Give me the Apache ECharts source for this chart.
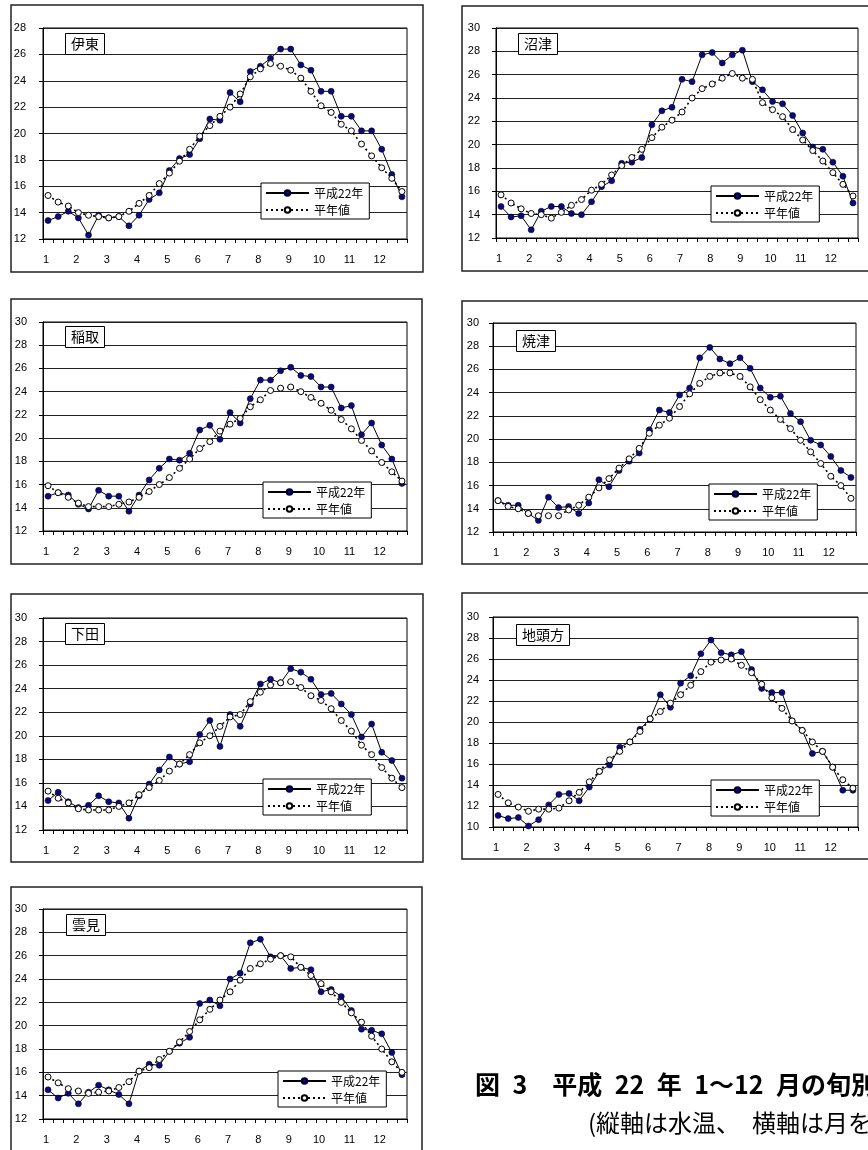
<!DOCTYPE html>
<html>
<head>
<meta charset="utf-8">
<script src="https://cdn.jsdelivr.net/npm/echarts@6/dist/echarts.min.js"></script>
<style>
  html, body { margin: 0; padding: 0; background: #fff; }
  #chart { width: 868px; height: 1150px; }
</style>
</head>
<body>
<div id="chart"></div>
<script>
// Month tick labels (each month has three dekads: 上旬・中旬・下旬)
const monthLabels = ['1', '2', '3', '4', '5', '6', '7', '8', '9', '10', '11', '12'];
const dekadNames = ['上旬', '中旬', '下旬'];
const seriesNames = ['平成22年', '平年値'];
const stationNames = ['伊東', '沼津', '稲取', '焼津', '下田', '地頭方', '雲見'];

// Y-axis ranges per station (°C)
const yMins = [12, 12, 12, 12, 12, 10, 12];
const yMaxs = [28, 30, 30, 30, 30, 30, 30];

// Dekad mean water temperature, 2010 and the normal
const ito2010 = [13.4, 13.7, 14.1, 13.6, 12.3, 13.8, 13.6, 13.7, 13.0, 13.8, 15.0, 15.5, 17.2, 18.1, 18.4, 19.6, 21.1, 21.0, 23.1, 22.4, 24.7, 25.1, 25.7, 26.4, 26.4, 25.2, 24.8, 23.2, 23.2, 21.3, 21.3, 20.2, 20.2, 18.8, 16.9, 15.2];
const itoNormal = [15.3, 14.8, 14.5, 14.0, 13.8, 13.7, 13.6, 13.7, 14.1, 14.7, 15.3, 16.2, 17.0, 17.9, 18.8, 19.8, 20.6, 21.3, 22.0, 23.0, 24.3, 24.9, 25.3, 25.1, 24.8, 24.2, 23.2, 22.1, 21.6, 20.7, 20.2, 19.2, 18.3, 17.4, 16.6, 15.6];

const numazu2010 = [14.7, 13.8, 13.9, 12.7, 14.3, 14.7, 14.7, 14.1, 14.0, 15.1, 16.4, 16.9, 18.4, 18.5, 18.9, 21.7, 22.9, 23.2, 25.6, 25.4, 27.7, 27.9, 27.0, 27.7, 28.1, 25.4, 24.7, 23.7, 23.5, 22.5, 21.0, 19.8, 19.6, 18.5, 17.3, 15.0];
const numazuNormal = [15.7, 15.0, 14.5, 14.1, 14.0, 13.7, 14.2, 14.8, 15.3, 16.1, 16.6, 17.4, 18.2, 18.9, 19.6, 20.6, 21.5, 22.1, 22.8, 24.0, 24.8, 25.2, 25.7, 26.1, 25.7, 25.6, 23.6, 23.0, 22.4, 21.3, 20.4, 19.5, 18.6, 17.6, 16.6, 15.6];

const inatori2010 = [15.0, 15.3, 15.1, 14.3, 13.9, 15.5, 15.0, 15.0, 13.7, 15.1, 16.4, 17.4, 18.2, 18.1, 18.7, 20.7, 21.1, 19.9, 22.2, 21.3, 23.4, 25.0, 25.0, 25.8, 26.1, 25.4, 25.3, 24.4, 24.4, 22.6, 22.8, 20.3, 21.3, 19.4, 18.2, 16.1];
const inatoriNormal = [15.9, 15.3, 14.9, 14.4, 14.1, 14.1, 14.1, 14.3, 14.5, 14.9, 15.4, 16.0, 16.6, 17.4, 18.2, 19.1, 19.7, 20.6, 21.2, 21.7, 22.7, 23.3, 24.1, 24.3, 24.4, 24.0, 23.5, 23.0, 22.4, 21.6, 20.8, 19.8, 18.9, 17.9, 17.1, 16.3];

const yaizu2010 = [14.7, 14.3, 14.3, 13.6, 13.0, 15.0, 14.1, 14.2, 13.6, 14.5, 16.5, 15.9, 17.3, 18.1, 18.8, 20.8, 22.5, 22.3, 23.8, 24.4, 27.0, 27.9, 26.9, 26.5, 27.0, 26.1, 24.4, 23.6, 23.7, 22.2, 21.5, 19.9, 19.5, 18.5, 17.3, 16.7];
const yaizuNormal = [14.7, 14.2, 14.0, 13.6, 13.4, 13.4, 13.4, 13.9, 14.3, 15.0, 15.8, 16.6, 17.5, 18.3, 19.2, 20.5, 21.2, 21.8, 22.8, 23.9, 24.8, 25.4, 25.7, 25.7, 25.4, 24.5, 23.4, 22.5, 21.7, 20.9, 19.9, 18.9, 17.9, 16.8, 16.0, 14.9];

const shimoda2010 = [14.5, 15.2, 14.4, 13.9, 14.1, 14.9, 14.4, 14.3, 13.0, 14.9, 15.9, 17.1, 18.2, 17.6, 17.8, 20.1, 21.3, 19.1, 21.8, 20.8, 22.7, 24.4, 24.8, 24.5, 25.7, 25.4, 24.8, 23.5, 23.6, 22.7, 21.8, 19.9, 21.0, 18.6, 17.9, 16.4];
const shimodaNormal = [15.3, 14.7, 14.3, 13.8, 13.7, 13.7, 13.7, 14.0, 14.3, 15.0, 15.6, 16.2, 17.0, 17.6, 18.4, 19.4, 20.0, 20.8, 21.6, 21.8, 22.9, 23.7, 24.3, 24.5, 24.6, 24.1, 23.4, 23.0, 22.3, 21.3, 20.4, 19.2, 18.4, 17.3, 16.4, 15.6];

const jitogata2010 = [11.1, 10.8, 10.9, 10.1, 10.7, 12.1, 13.1, 13.2, 12.5, 13.8, 15.3, 15.9, 17.6, 18.1, 19.3, 20.3, 22.6, 21.4, 23.7, 24.4, 26.5, 27.8, 26.6, 26.4, 26.7, 25.0, 23.2, 22.8, 22.8, 20.1, 19.2, 17.0, 17.2, 15.7, 13.5, 13.5];
const jitogataNormal = [13.1, 12.3, 11.9, 11.5, 11.7, 11.7, 11.8, 12.5, 13.3, 14.3, 15.3, 16.4, 17.2, 18.1, 19.1, 20.3, 21.0, 21.8, 22.6, 23.5, 24.8, 25.7, 25.9, 26.0, 25.4, 24.7, 23.6, 22.3, 21.3, 20.1, 19.2, 18.1, 17.2, 15.7, 14.5, 13.7];

const kumomi2010 = [14.5, 13.8, 14.2, 13.3, 14.3, 14.9, 14.5, 14.1, 13.3, 16.1, 16.7, 16.6, 17.8, 18.5, 19.0, 21.9, 22.2, 21.7, 24.0, 24.5, 27.1, 27.4, 25.9, 26.0, 24.9, 25.0, 24.8, 22.9, 23.1, 22.5, 21.3, 19.7, 19.6, 19.3, 17.7, 15.8];
const kumomiNormal = [15.6, 15.1, 14.6, 14.4, 14.2, 14.3, 14.4, 14.7, 15.2, 16.1, 16.4, 17.1, 17.8, 18.6, 19.5, 20.5, 21.4, 22.2, 22.9, 23.9, 24.9, 25.3, 25.7, 26.0, 25.9, 25.0, 24.3, 23.6, 22.9, 22.0, 21.1, 20.3, 19.1, 18.0, 16.9, 16.0];

const values2010 = [ito2010, numazu2010, inatori2010, yaizu2010, shimoda2010, jitogata2010, kumomi2010];
const valuesNormal = [itoNormal, numazuNormal, inatoriNormal, yaizuNormal, shimodaNormal, jitogataNormal, kumomiNormal];

// Panel geometry (pixels): outer frame, plot area, station tag, legend box
const layout = [
  { frame: [11, 5, 412, 267],   plot: [43, 28, 364, 211],  tag: [65, 33],   legend: [261, 183], yMargin: 17 },
  { frame: [462, 6, 420, 265],  plot: [496, 28, 362, 210], tag: [518, 33],  legend: [711, 186], yMargin: 16 },
  { frame: [11, 299, 411, 265], plot: [43, 322, 364, 209], tag: [65, 326],  legend: [263, 482], yMargin: 16 },
  { frame: [462, 301, 420, 263],plot: [493, 323, 363, 209],tag: [516, 330], legend: [709, 484], yMargin: 14 },
  { frame: [11, 594, 412, 268], plot: [43, 618, 364, 212], tag: [65, 623],  legend: [263, 779], yMargin: 16 },
  { frame: [462, 593, 420, 266],plot: [493, 617, 365, 210],tag: [516, 624], legend: [711, 780], yMargin: 14 },
  { frame: [11, 887, 411, 300], plot: [43, 909, 364, 210], tag: [66, 914],  legend: [278, 1071], yMargin: 16 }
];

const categories = [];
monthLabels.forEach(m => dekadNames.forEach(d => categories.push(m + '月' + d)));

const latinFont = '"Liberation Sans", Arial, sans-serif';
const cjkFont = '"Noto Sans CJK JP", sans-serif';

const grids = [], xAxes = [], yAxes = [], series = [], legends = [], titles = [], graphics = [];

layout.forEach((p, i) => {
  graphics.push({
    type: 'rect', silent: true, z: 0,
    shape: { x: p.frame[0], y: p.frame[1], width: p.frame[2], height: p.frame[3] },
    style: { fill: 'none', stroke: '#222', lineWidth: 1.5 }
  });

  grids.push({
    left: p.plot[0], top: p.plot[1], width: p.plot[2], height: p.plot[3],
    show: true, borderColor: '#000', borderWidth: 1, backgroundColor: 'transparent',
    outerBoundsMode: 'none'
  });

  xAxes.push({
    type: 'category', gridIndex: i, data: categories, boundaryGap: true,
    axisLine: { show: true, lineStyle: { color: '#000', width: 1 } },
    axisTick: { show: true, interval: 0, length: 4, inside: false, lineStyle: { color: '#000', width: 1 } },
    axisLabel: {
      interval: 2, margin: 15, color: '#000', fontSize: 11, fontFamily: latinFont,
      padding: [0, 4, 0, 0],
      formatter: (v, idx) => monthLabels[Math.floor(idx / 3)]
    },
    splitLine: { show: false }
  });

  yAxes.push({
    type: 'value', gridIndex: i, min: yMins[i], max: yMaxs[i], interval: 2,
    axisLine: { show: true, lineStyle: { color: '#000', width: 1 } },
    axisTick: { show: true, length: 4, inside: false, lineStyle: { color: '#000', width: 1 } },
    axisLabel: { margin: p.yMargin, color: '#000', fontSize: 11, fontFamily: latinFont },
    splitLine: { show: true, lineStyle: { color: '#222', width: 1 } }
  });

  series.push({
    type: 'line', name: seriesNames[0], xAxisIndex: i, yAxisIndex: i,
    data: values2010[i], symbol: 'circle', symbolSize: 6, showAllSymbol: true,
    itemStyle: { color: '#0a0a78', borderColor: '#000030', borderWidth: 0.6 },
    lineStyle: { color: '#000', width: 1, type: 'solid' },
    emphasis: { disabled: true }, animation: false, z: 2
  });
  series.push({
    type: 'line', name: seriesNames[1], xAxisIndex: i, yAxisIndex: i,
    data: valuesNormal[i], symbol: 'circle', symbolSize: 6, showAllSymbol: true,
    itemStyle: { color: '#fff', borderColor: '#000', borderWidth: 1 },
    lineStyle: { color: '#000', width: 1.6, type: [2, 3] },
    emphasis: { disabled: true }, animation: false, z: 3
  });

  legends.push({
    data: seriesNames, orient: 'vertical', selectedMode: false,
    left: p.legend[0], top: p.legend[1],
    itemWidth: 43, itemHeight: 7, itemGap: 5,
    padding: [4, 6, 3, 4],
    borderColor: '#000', borderWidth: 1, borderRadius: 0, backgroundColor: '#fff',
    textStyle: { fontSize: 12, color: '#000', fontFamily: cjkFont }
  });

  titles.push({
    text: stationNames[i], left: p.tag[0], top: p.tag[1],
    padding: [4, 6, 4, 6],
    borderColor: '#000', borderWidth: 1, backgroundColor: '#fff',
    textStyle: { fontSize: 14, fontWeight: 'normal', color: '#000', fontFamily: cjkFont }
  });
});

// Figure caption (en spaces keep the half-width gaps of the original typesetting)
graphics.push({
  type: 'text', silent: true, x: 475, y: 1084,
  style: {
    text: '図\u20023　平成\u200222\u2002年\u20021～12\u2002月の旬別平均水温の推移',
    font: 'bold 25px "Noto Sans CJK JP", sans-serif',
    fill: '#000', textVerticalAlign: 'middle', textAlign: 'left'
  }
});
graphics.push({
  type: 'text', silent: true, x: 588, y: 1123,
  style: {
    text: '(縦軸は水温、　横軸は月を示す)',
    font: '24px "Noto Sans CJK JP", sans-serif',
    fill: '#000', textVerticalAlign: 'middle', textAlign: 'left'
  }
});

const chart = echarts.init(document.getElementById('chart'), null, { renderer: 'canvas' });
chart.setOption({
  backgroundColor: '#fff',
  animation: false,
  title: titles,
  legend: legends,
  grid: grids,
  xAxis: xAxes,
  yAxis: yAxes,
  series: series,
  graphic: graphics
});
</script>
</body>
</html>
